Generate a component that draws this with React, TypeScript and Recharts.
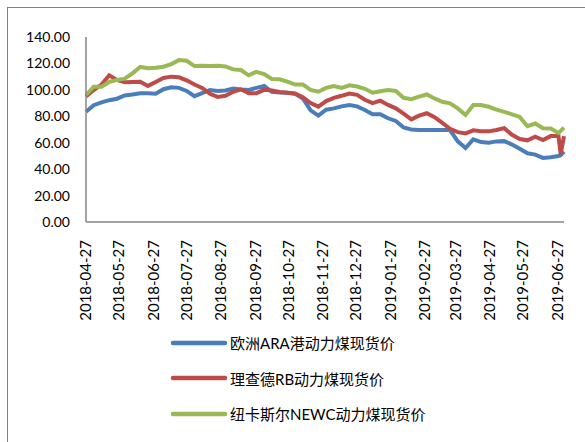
import React from "react";
import { LineChart, Line, XAxis, YAxis, Legend } from "recharts";

// weekly samples, plus two end points
const DATES = [
  "2018-04-27", "2018-05-04", "2018-05-11", "2018-05-18", "2018-05-25",
  "2018-06-01", "2018-06-08", "2018-06-15", "2018-06-22", "2018-06-29",
  "2018-07-06", "2018-07-13", "2018-07-20", "2018-07-27", "2018-08-03",
  "2018-08-10", "2018-08-17", "2018-08-24", "2018-08-31", "2018-09-07",
  "2018-09-14", "2018-09-21", "2018-09-28", "2018-10-05", "2018-10-12",
  "2018-10-19", "2018-10-26", "2018-11-02", "2018-11-09", "2018-11-16",
  "2018-11-23", "2018-11-30", "2018-12-07", "2018-12-14", "2018-12-21",
  "2018-12-28", "2019-01-04", "2019-01-11", "2019-01-18", "2019-01-25",
  "2019-02-01", "2019-02-08", "2019-02-15", "2019-02-22", "2019-03-01",
  "2019-03-08", "2019-03-15", "2019-03-22", "2019-03-29", "2019-04-05",
  "2019-04-12", "2019-04-19", "2019-04-26", "2019-05-03", "2019-05-10",
  "2019-05-17", "2019-05-24", "2019-05-31", "2019-06-07", "2019-06-14",
  "2019-06-21", "2019-06-28", "2019-06-30", "2019-07-03",
];

const ARA = [
  83.5, 88.4, 90.5, 92.2, 93.3, 95.8, 96.5, 97.4, 97.4, 97,
  100.5, 102, 101.5, 99.2, 95.2, 97.5, 99.9, 99.1, 99.5, 101,
  100.2, 99.9, 101.5, 103, 98.5, 98, 97.8, 97, 93.5, 84.5,
  80.5, 85, 86, 87.5, 88.5, 87.5, 84.8, 81.5, 81.5, 78.5,
  76.5, 71.5, 70, 69.6, 69.6, 69.6, 69.6, 69.6, 61, 56,
  62.5, 60.5, 60, 61, 61.2, 58.6, 55.5, 52, 51, 48.5,
  49, 50, 50.5, 53.2,
];

const RB = [
  94.9, 99.9, 104, 111, 107.5, 105.7, 106, 106.1, 103, 106,
  109, 110, 109.5, 107.2, 104, 101.5, 97, 94.7, 95.5, 98.5,
  100.4, 97.5, 97.5, 100, 99.5, 98.4, 97.8, 97.2, 94.5, 90,
  87.3, 91.5, 94, 95.5, 97.2, 96.2, 92.5, 90, 91.8, 88.6,
  86, 82, 77.7, 80.5, 82.3, 79.3, 75, 70.5, 68, 67,
  69.4, 68.6, 68.6, 69.6, 71, 66, 62.8, 61.8, 64.5, 62,
  65, 65, 51.5, 65,
];

const NEWC = [
  96.1, 102.4, 102.4, 106, 107.5, 108.5, 112.5, 117.3, 116.3, 116.8,
  117.5, 119.5, 122.5, 122, 118, 118.3, 118, 118.2, 117.7, 115.5,
  115, 111, 113.7, 112, 108.2, 108, 106.3, 104, 104, 100,
  98.6, 101.5, 102.9, 101.5, 103.4, 102.5, 100.8, 97.8, 99, 99.8,
  99.2, 94, 93, 94.9, 96.5, 93.5, 91, 89.8, 86, 81,
  88.5, 88.5, 87.2, 85, 83.4, 81.5, 79.5, 72.5, 74.5, 71,
  70.8, 67.3, 69, 71.4,
];

const TICK_LABELS = [
  "2018-04-27", "2018-05-27", "2018-06-27", "2018-07-27", "2018-08-27",
  "2018-09-27", "2018-10-27", "2018-11-27", "2018-12-27", "2019-01-27",
  "2019-02-27", "2019-03-27", "2019-04-27", "2019-05-27", "2019-06-27",
];

const Y_TICKS = [0, 20, 40, 60, 80, 100, 120, 140];

const SERIES = [
  { key: "ara", name: "欧洲ARA港动力煤现货价", color: "#4A7EBB" },
  { key: "rb", name: "理查德RB动力煤现货价", color: "#BE4B48" },
  { key: "newc", name: "纽卡斯尔NEWC动力煤现货价", color: "#98B954" },
];

const data = DATES.map((d, i) => ({
  t: Date.parse(d),
  ara: ARA[i],
  rb: RB[i],
  newc: NEWC[i],
}));

const tickTimes = TICK_LABELS.map((d) => Date.parse(d));
const labelByTime: Record<number, string> = {};
TICK_LABELS.forEach((d) => (labelByTime[Date.parse(d)] = d));

const FONT = "Lato, 'Noto Sans CJK SC', sans-serif";

function DateTick({ x, y, payload }: any) {
  return (
    <g transform={`translate(${x},${y})`}>
      <text
        transform="rotate(-90)"
        x={-10}
        y={0}
        dy="0.35em"
        textAnchor="end"
        fontSize={15}
        fontFamily={FONT}
        fill="#000"
      >
        {labelByTime[payload.value]}
      </text>
    </g>
  );
}

function LegendBox() {
  return (
    <div style={{ fontFamily: FONT }}>
      {SERIES.map((s) => (
        <div
          key={s.key}
          style={{ display: "flex", alignItems: "center", height: 35.5 }}
        >
          <svg width={58} height={8}>
            <line
              x1={3}
              y1={4}
              x2={55}
              y2={4}
              stroke={s.color}
              strokeWidth={4.5}
              strokeLinecap="round"
            />
          </svg>
          <span style={{ fontSize: 15, color: "#000", marginLeft: 2 }}>
            {s.name}
          </span>
        </div>
      ))}
    </div>
  );
}

export default function App() {
  return (
    <div
      style={{
        position: "absolute",
        left: 0,
        top: 0,
        width: 585,
        height: 442,
        overflow: "hidden",
        background: "#fff",
      }}
    >
      <div
        style={{
          position: "absolute",
          left: 7,
          top: 7,
          width: 620,
          height: 480,
          borderLeft: "1px solid #808080",
          borderTop: "1px solid #808080",
        }}
      />
      <LineChart
        width={585}
        height={442}
        data={data}
        margin={{ top: 37, right: 21, left: 0, bottom: 120 }}
        style={{ position: "absolute", left: 0, top: 0 }}
      >
        <XAxis
          dataKey="t"
          type="number"
          scale="time"
          domain={[Date.parse("2018-04-27"), Date.parse("2019-07-03")]}
          ticks={tickTimes}
          tick={<DateTick />}
          tickLine={false}
          axisLine={{ stroke: "#868686", strokeWidth: 1.5 }}
          height={100}
          interval={0}
        />
        <YAxis
          type="number"
          domain={[0, 140]}
          ticks={Y_TICKS}
          tickFormatter={(v: number) => v.toFixed(2)}
          tick={{ fontSize: 14, fontFamily: FONT, fill: "#000" }}
          tickLine={false}
          tickSize={0}
          tickMargin={16}
          axisLine={{ stroke: "#868686", strokeWidth: 1.5 }}
          width={86}
          interval={0}
        />
        {SERIES.map((s) => (
          <Line
            key={s.key}
            type="linear"
            dataKey={s.key}
            name={s.name}
            stroke={s.color}
            strokeWidth={4}
            dot={false}
            activeDot={false}
            isAnimationActive={false}
          />
        ))}
        <Legend
          layout="vertical"
          align="center"
          verticalAlign="middle"
          content={<LegendBox />}
          wrapperStyle={{ left: 170, top: 325, width: 320 }}
        />
      </LineChart>
    </div>
  );
}
